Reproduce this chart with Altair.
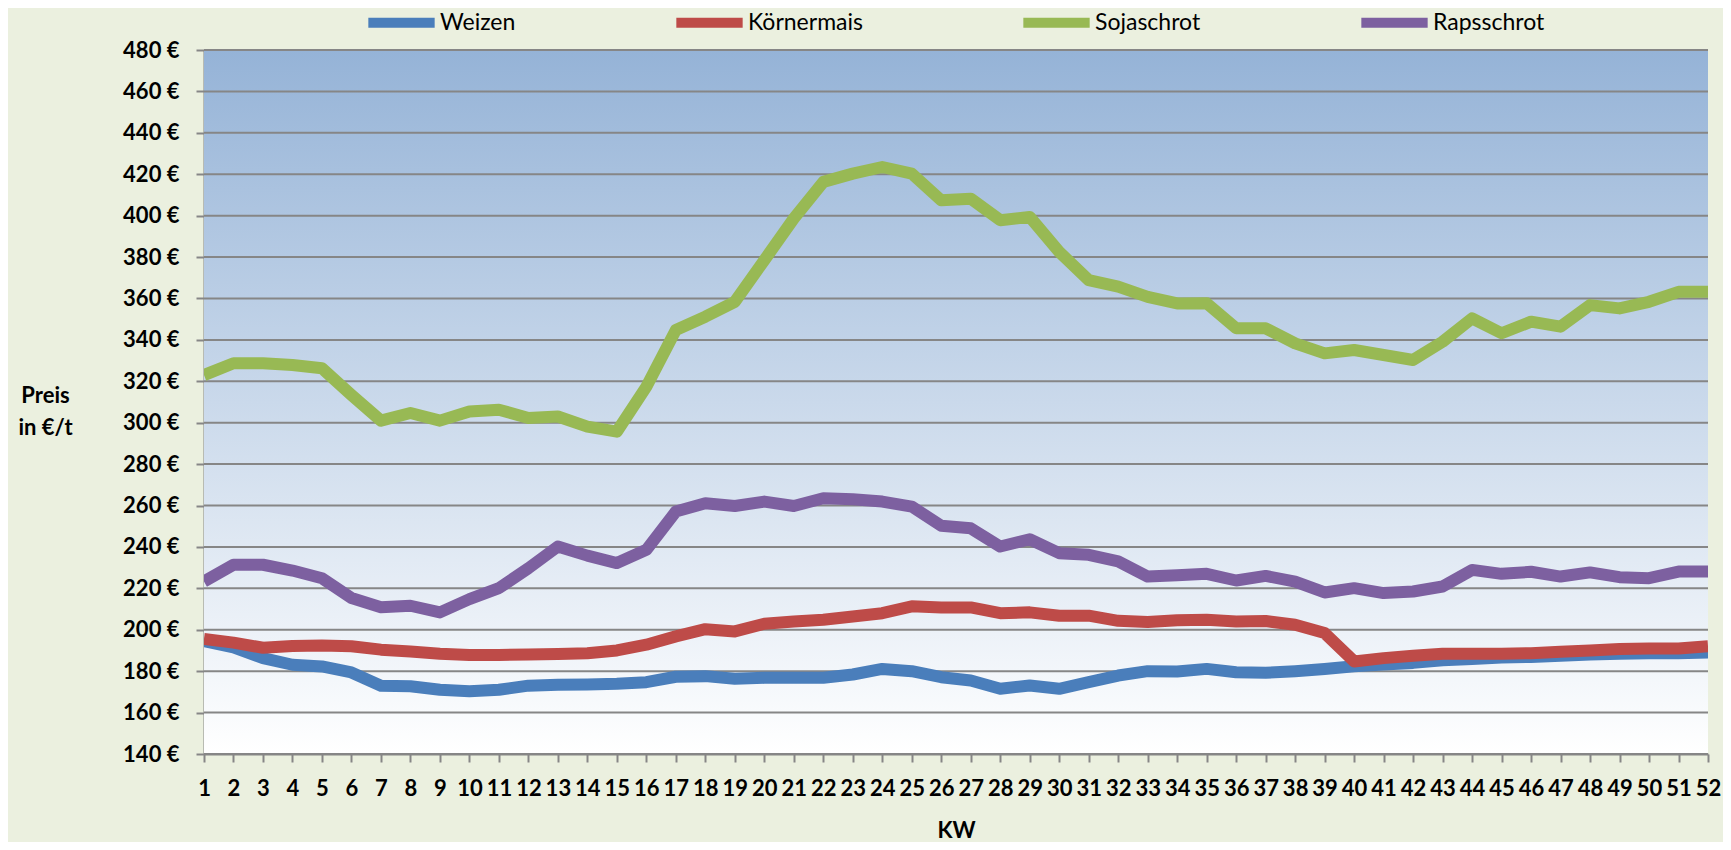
import altair as alt
import pandas as pd

weeks = list(range(1, 53))
series_names = ["Weizen", "Körnermais", "Sojaschrot", "Rapsschrot"]
series_colors = ["#4A7EBB", "#BE4B48", "#98B954", "#7D60A0"]

weizen = [194.5, 191.5, 186.3, 183.1, 182.3, 179.4, 173, 172.7, 171, 170.3, 171, 173, 173.5,
          173.6, 173.9, 174.7, 177.3, 177.6, 176.3, 176.8, 176.8, 176.8, 178.4, 181.1, 180,
          177.1, 175.5, 171.5, 173.1, 171.5, 174.7, 177.9, 180, 179.8, 181.1, 179.5, 179.2,
          180, 181.1, 182.4, 183.2, 184, 185.3, 185.9, 186.6, 186.9, 187.5, 188.1, 188.4,
          188.7, 188.7, 189]
koernermais = [195.5, 193.8, 191.3, 192.2, 192.4, 192, 190.4, 189.5, 188.4, 187.8, 187.8, 188.1,
               188.3, 188.7, 190, 192.8, 196.8, 200.3, 199.2, 202.9, 204, 204.8, 206.4, 208,
               211.3, 210.8, 210.8, 208, 208.4, 206.8, 206.8, 204.3, 203.7, 204.6, 204.8, 204,
               204.2, 202.4, 198.4, 184.7, 186.3, 187.5, 188.4, 188.4, 188.4, 188.7, 189.4, 190,
               190.7, 191, 191, 192]
sojaschrot = [323, 328.7, 328.7, 327.9, 326.3, 313.4, 301, 304.7, 301, 305.4, 306.3, 302.3, 303,
              298.1, 295.7, 317.4, 344.8, 351.2, 358.4, 378.5, 398.6, 416.3, 420.3, 423.5, 420.3,
              407.4, 408.2, 397.8, 399.4, 382.5, 368.9, 365.7, 360.8, 357.6, 357.7, 345.6, 345.6,
              338.3, 333.5, 335.1, 332.7, 330.3, 339.1, 350.4, 343.2, 348.8, 346.4, 356.8, 355.2,
              358.4, 363.2, 363.2]
rapsschrot = [223.3, 231.4, 231.4, 228.6, 224.9, 215.3, 210.9, 211.6, 208.4, 214.8, 220.1, 229.7,
              240.2, 235.8, 232.2, 238.6, 257.1, 261.1, 259.8, 261.9, 259.8, 263.5, 263, 261.9,
              259.5, 250.2, 249, 240.2, 243.7, 237, 236.2, 233, 225.7, 226.3, 227, 223.8, 226,
              223.3, 218, 220.1, 217.7, 218.5, 220.9, 228.9, 227, 228, 225.7, 227.7, 225.4, 224.9,
              228.1, 228.1]
y_ticks = list(range(140, 481, 20))

rows = []
for name, vals in zip(series_names, [weizen, koernermais, sojaschrot, rapsschrot]):
    for w, v in zip(weeks, vals):
        rows.append({"KW": w, "Preis": v, "Serie": name})
df = pd.DataFrame(rows)
grid_df = pd.DataFrame({"Preis": y_ticks})

W, H = 1504, 704
grid_color = "#868686"
font = "Lato"

x_scale = alt.Scale(domain=[1, 52], nice=False, zero=False)
y_scale = alt.Scale(domain=[140, 480], nice=False, zero=False)

background = alt.Chart(alt.Data(values=[{"a": 1}])).mark_rect(
    color=alt.Gradient(
        gradient="linear", x1=0, y1=0, x2=0, y2=1,
        stops=[alt.GradientStop(color="#95B3D7", offset=0),
               alt.GradientStop(color="#FFFFFF", offset=1)],
    )
).encode(
    x=alt.value(0), x2=alt.value(W), y=alt.value(0), y2=alt.value(H)
)

grid = alt.Chart(grid_df).mark_rule(color=grid_color, strokeWidth=2).encode(
    y=alt.Y("Preis:Q", scale=y_scale)
)

lines = alt.Chart(df).mark_line(
    strokeWidth=12, clip=True, strokeCap="butt", strokeJoin="round"
).encode(
    x=alt.X("KW:Q", scale=x_scale,
            axis=alt.Axis(values=weeks, format="d", title="KW", grid=False,
                          labelOverlap=False, labelFlush=False,
                          tickSize=8, tickColor=grid_color, tickWidth=2,
                          domainColor=grid_color, domainWidth=2,
                          labelFont=font, labelFontSize=22, labelFontWeight="bold",
                          labelColor="#000000", labelPadding=26, labelBaseline="middle",
                          titleFont=font, titleFontSize=22, titleFontWeight="bold",
                          titleColor="#000000", titleY=76, titleBaseline="middle")),
    y=alt.Y("Preis:Q", scale=y_scale,
            axis=alt.Axis(values=y_ticks, labelExpr="datum.value + ' €'",
                          title=["Preis", "in €/t"], grid=False,
                          tickSize=8, tickColor=grid_color, tickWidth=2,
                          domainColor=grid_color, domainWidth=2,
                          labelFont=font, labelFontSize=22, labelFontWeight="bold",
                          labelColor="#000000", labelPadding=17,
                          titleFont=font, titleFontSize=22, titleFontWeight="bold",
                          titleColor="#000000", titleAngle=0, titleAlign="center",
                          titleBaseline="middle", titleX=-159, titleY=345,
                          titleLineHeight=32)),
    color=alt.Color("Serie:N",
                    scale=alt.Scale(domain=series_names, range=series_colors),
                    sort=series_names,
                    legend=alt.Legend(title=None, orient="none", direction="horizontal",
                                      legendX=159, legendY=-66, padding=0,
                                      symbolType="stroke", symbolSize=4400,
                                      symbolStrokeWidth=10, labelOffset=0,
                                      columnPadding=140,
                                      labelFont=font, labelFontSize=23,
                                      labelColor="#000000")),
)

chart = alt.layer(background, grid, lines).properties(
    width=W,
    height=H,
    autosize=alt.AutoSizeParams(type="none"),
    padding={"left": 196, "top": 42, "right": 15, "bottom": 88},
    background="#EBF0DF",
).configure_view(
    strokeWidth=0,
)

chart.save("out.html", embed_options={"renderer": "svg", "actions": False})
